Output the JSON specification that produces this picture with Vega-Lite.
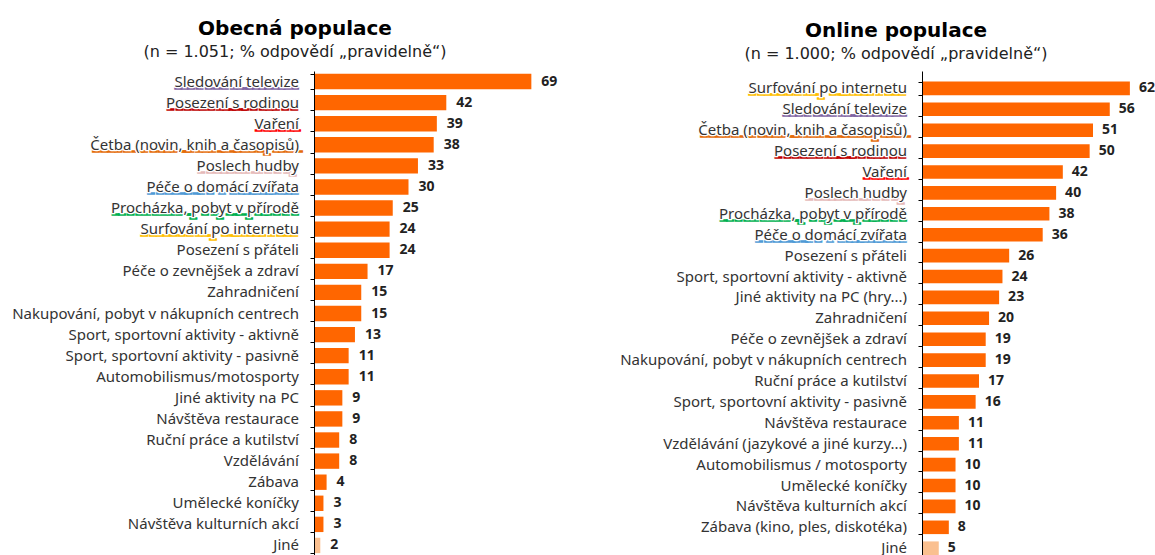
{
  "$schema": "https://vega.github.io/schema/vega-lite/v6.json",
  "padding": {"left": 0, "top": 19, "right": 0, "bottom": 0},
  "background": "white",
  "config": {"view": {"stroke": null}},
  "spacing": 20,
  "datasets": {
    "obecna": [
      {"aktivita": "Sledování televize", "procento": 69},
      {"aktivita": "Posezení s rodinou", "procento": 42},
      {"aktivita": "Vaření", "procento": 39},
      {"aktivita": "Četba (novin, knih a časopisů)", "procento": 38},
      {"aktivita": "Poslech hudby", "procento": 33},
      {"aktivita": "Péče o domácí zvířata", "procento": 30},
      {"aktivita": "Procházka, pobyt v přírodě", "procento": 25},
      {"aktivita": "Posezení s přáteli", "procento": 24},
      {"aktivita": "Surfování po internetu", "procento": 24},
      {"aktivita": "Péče o zevnějšek a zdraví", "procento": 17},
      {"aktivita": "Zahradničení", "procento": 15},
      {"aktivita": "Nakupování, pobyt v nákupních centrech", "procento": 15},
      {"aktivita": "Sport, sportovní aktivity - aktivně", "procento": 13},
      {"aktivita": "Sport, sportovní aktivity - pasivně", "procento": 11},
      {"aktivita": "Automobilismus/motosporty", "procento": 11},
      {"aktivita": "Jiné aktivity na PC", "procento": 9},
      {"aktivita": "Návštěva restaurace", "procento": 9},
      {"aktivita": "Ruční práce a kutilství", "procento": 8},
      {"aktivita": "Vzdělávání", "procento": 8},
      {"aktivita": "Zábava", "procento": 4},
      {"aktivita": "Umělecké koníčky", "procento": 3},
      {"aktivita": "Návštěva kulturních akcí", "procento": 3},
      {"aktivita": "Jiné", "procento": 2}
    ],
    "online": [
      {"aktivita": "Surfování po internetu", "procento": 62},
      {"aktivita": "Sledování televize", "procento": 56},
      {"aktivita": "Četba (novin, knih a časopisů)", "procento": 51},
      {"aktivita": "Posezení s rodinou", "procento": 50},
      {"aktivita": "Vaření", "procento": 42},
      {"aktivita": "Poslech hudby", "procento": 40},
      {"aktivita": "Procházka, pobyt v přírodě", "procento": 38},
      {"aktivita": "Péče o domácí zvířata", "procento": 36},
      {"aktivita": "Posezení s přáteli", "procento": 26},
      {"aktivita": "Sport, sportovní aktivity - aktivně", "procento": 24},
      {"aktivita": "Jiné aktivity na PC (hry...)", "procento": 23},
      {"aktivita": "Zahradničení", "procento": 20},
      {"aktivita": "Péče o zevnějšek a zdraví", "procento": 19},
      {"aktivita": "Nakupování, pobyt v nákupních centrech", "procento": 19},
      {"aktivita": "Ruční práce a kutilství", "procento": 17},
      {"aktivita": "Sport, sportovní aktivity - pasivně", "procento": 16},
      {"aktivita": "Návštěva restaurace", "procento": 11},
      {"aktivita": "Vzdělávání (jazykové a jiné kurzy...)", "procento": 11},
      {"aktivita": "Automobilismus / motosporty", "procento": 10},
      {"aktivita": "Umělecké koníčky", "procento": 10},
      {"aktivita": "Návštěva kulturních akcí", "procento": 10},
      {"aktivita": "Zábava (kino, ples, diskotéka)", "procento": 8},
      {"aktivita": "Jiné", "procento": 5}
    ]
  },
  "hconcat": [
    {
      "data": {"name": "obecna"},
      "width": 252,
      "height": 485,
      "title": {
        "text": "Obecná populace",
        "subtitle": "(n = 1.051; % odpovědí „pravidelně“)",
        "anchor": "middle", "frame": "group", "dx": -145, "offset": 11,
        "font": "DejaVu Sans", "fontSize": 20, "fontWeight": "bold", "color": "#000000",
        "subtitleFont": "DejaVu Sans", "subtitleFontSize": 16, "subtitleColor": "#222222", "subtitlePadding": 5
      },
      "encoding": {
        "y": {
          "field": "aktivita", "type": "nominal", "sort": null,
          "scale": {"paddingInner": 0.27, "paddingOuter": 0.135},
          "axis": {
            "title": null, "labels": false, "domainColor": "#000000", "tickColor": "#000000", "tickSize": 4, "tickBand": "extent",
            "zindex": 1, "minExtent": 314, "maxExtent": 314
          }
        }
      },
      "layer": [
        {
          "transform": [
            {"filter": {"field": "aktivita", "oneOf": ["Sledování televize", "Posezení s rodinou", "Vaření", "Četba (novin, knih a časopisů)", "Poslech hudby", "Péče o domácí zvířata", "Procházka, pobyt v přírodě", "Surfování po internetu"]}},
            {"calculate": "replace(datum.aktivita, regexp('(.)', 'g'), '$1\u0332')", "as": "podtrzeni"}
          ],
          "mark": {"type": "text", "align": "right", "baseline": "middle", "dx": -15, "font": "Noto Sans", "fontSize": 15, "strokeWidth": 1.4},
          "encoding": {
            "x": {"datum": 0, "type": "quantitative", "scale": {"domain": [0, 80]}, "axis": null},
            "text": {"field": "podtrzeni", "type": "nominal"},
            "fill": {
              "field": "aktivita", "type": "nominal", "legend": null,
              "scale": {
                "domain": ["Sledování televize", "Posezení s rodinou", "Vaření", "Četba (novin, knih a časopisů)", "Poslech hudby", "Péče o domácí zvířata", "Procházka, pobyt v přírodě", "Surfování po internetu"],
                "range": ["#8064A2", "#C00000", "#FF0000", "#E46C0A", "#E6B9B8", "#4F9AD6", "#00B050", "#FFC000"]
              }
            },
            "stroke": {
              "field": "aktivita", "type": "nominal", "legend": null,
              "scale": {
                "domain": ["Sledování televize", "Posezení s rodinou", "Vaření", "Četba (novin, knih a časopisů)", "Poslech hudby", "Péče o domácí zvířata", "Procházka, pobyt v přírodě", "Surfování po internetu"],
                "range": ["#8064A2", "#C00000", "#FF0000", "#E46C0A", "#E6B9B8", "#4F9AD6", "#00B050", "#FFC000"]
              }
            }
          }
        },
        {
          "transform": [
            {"filter": {"field": "aktivita", "oneOf": ["Sledování televize", "Posezení s rodinou", "Vaření", "Četba (novin, knih a časopisů)", "Poslech hudby", "Péče o domácí zvířata", "Procházka, pobyt v přírodě", "Surfování po internetu"]}}
          ],
          "mark": {"type": "text", "align": "right", "baseline": "middle", "dx": -15, "font": "Noto Sans", "fontSize": 15, "fill": "#ffffff", "stroke": "#ffffff", "strokeWidth": 2.6},
          "encoding": {
            "x": {"datum": 0, "type": "quantitative", "scale": {"domain": [0, 80]}, "axis": null},
            "text": {"field": "aktivita", "type": "nominal"}
          }
        },
        {
          "mark": {"type": "text", "align": "right", "baseline": "middle", "dx": -15, "font": "Noto Sans", "fontSize": 15, "color": "#333333"},
          "encoding": {
            "x": {"datum": 0, "type": "quantitative", "scale": {"domain": [0, 80]}, "axis": null},
            "text": {"field": "aktivita", "type": "nominal"}
          }
        },
        {
          "mark": {"type": "bar"},
          "encoding": {
            "x": {"field": "procento", "type": "quantitative", "scale": {"domain": [0, 80]}, "axis": null},
            "color": {"condition": {"test": "datum.aktivita === 'Jiné'", "value": "#FAC090"}, "value": "#FF6600"}
          }
        },
        {
          "mark": {"type": "text", "align": "left", "baseline": "middle", "dx": 10, "font": "Noto Sans", "fontSize": 14, "fontWeight": "bold", "color": "#222222"},
          "encoding": {
            "x": {"field": "procento", "type": "quantitative", "scale": {"domain": [0, 80]}, "axis": null},
            "text": {"field": "procento", "type": "quantitative"}
          }
        }
      ]
    },
    {
      "data": {"name": "online"},
      "width": 228,
      "height": 484,
      "title": {
        "text": "Online populace",
        "subtitle": "(n = 1.000; % odpovědí „pravidelně“)",
        "anchor": "middle", "frame": "group", "dx": -140, "offset": 9,
        "font": "DejaVu Sans", "fontSize": 20, "fontWeight": "bold", "color": "#000000",
        "subtitleFont": "DejaVu Sans", "subtitleFontSize": 16, "subtitleColor": "#222222", "subtitlePadding": 5
      },
      "encoding": {
        "y": {
          "field": "aktivita", "type": "nominal", "sort": null,
          "scale": {"paddingInner": 0.35, "paddingOuter": 0.254, "align": 1},
          "axis": {
            "title": null, "labels": false, "domainColor": "#000000", "tickColor": "#000000", "tickSize": 4, "tickBand": "extent",
            "zindex": 1, "minExtent": 336, "maxExtent": 336
          }
        }
      },
      "layer": [
        {
          "transform": [
            {"filter": {"field": "aktivita", "oneOf": ["Sledování televize", "Posezení s rodinou", "Vaření", "Četba (novin, knih a časopisů)", "Poslech hudby", "Péče o domácí zvířata", "Procházka, pobyt v přírodě", "Surfování po internetu"]}},
            {"calculate": "replace(datum.aktivita, regexp('(.)', 'g'), '$1\u0332')", "as": "podtrzeni"}
          ],
          "mark": {"type": "text", "align": "right", "baseline": "middle", "dx": -15, "font": "Noto Sans", "fontSize": 15, "strokeWidth": 1.4},
          "encoding": {
            "x": {"datum": 0, "type": "quantitative", "scale": {"domain": [0, 68]}, "axis": null},
            "text": {"field": "podtrzeni", "type": "nominal"},
            "fill": {
              "field": "aktivita", "type": "nominal", "legend": null,
              "scale": {
                "domain": ["Sledování televize", "Posezení s rodinou", "Vaření", "Četba (novin, knih a časopisů)", "Poslech hudby", "Péče o domácí zvířata", "Procházka, pobyt v přírodě", "Surfování po internetu"],
                "range": ["#8064A2", "#C00000", "#FF0000", "#E46C0A", "#E6B9B8", "#4F9AD6", "#00B050", "#FFC000"]
              }
            },
            "stroke": {
              "field": "aktivita", "type": "nominal", "legend": null,
              "scale": {
                "domain": ["Sledování televize", "Posezení s rodinou", "Vaření", "Četba (novin, knih a časopisů)", "Poslech hudby", "Péče o domácí zvířata", "Procházka, pobyt v přírodě", "Surfování po internetu"],
                "range": ["#8064A2", "#C00000", "#FF0000", "#E46C0A", "#E6B9B8", "#4F9AD6", "#00B050", "#FFC000"]
              }
            }
          }
        },
        {
          "transform": [
            {"filter": {"field": "aktivita", "oneOf": ["Sledování televize", "Posezení s rodinou", "Vaření", "Četba (novin, knih a časopisů)", "Poslech hudby", "Péče o domácí zvířata", "Procházka, pobyt v přírodě", "Surfování po internetu"]}}
          ],
          "mark": {"type": "text", "align": "right", "baseline": "middle", "dx": -15, "font": "Noto Sans", "fontSize": 15, "fill": "#ffffff", "stroke": "#ffffff", "strokeWidth": 2.6},
          "encoding": {
            "x": {"datum": 0, "type": "quantitative", "scale": {"domain": [0, 68]}, "axis": null},
            "text": {"field": "aktivita", "type": "nominal"}
          }
        },
        {
          "mark": {"type": "text", "align": "right", "baseline": "middle", "dx": -15, "font": "Noto Sans", "fontSize": 15, "color": "#333333"},
          "encoding": {
            "x": {"datum": 0, "type": "quantitative", "scale": {"domain": [0, 68]}, "axis": null},
            "text": {"field": "aktivita", "type": "nominal"}
          }
        },
        {
          "mark": {"type": "bar"},
          "encoding": {
            "x": {"field": "procento", "type": "quantitative", "scale": {"domain": [0, 68]}, "axis": null},
            "color": {"condition": {"test": "datum.aktivita === 'Jiné'", "value": "#FAC090"}, "value": "#FF6600"}
          }
        },
        {
          "mark": {"type": "text", "align": "left", "baseline": "middle", "dx": 9, "font": "Noto Sans", "fontSize": 14, "fontWeight": "bold", "color": "#222222"},
          "encoding": {
            "x": {"field": "procento", "type": "quantitative", "scale": {"domain": [0, 68]}, "axis": null},
            "text": {"field": "procento", "type": "quantitative"}
          }
        }
      ]
    }
  ]
}
